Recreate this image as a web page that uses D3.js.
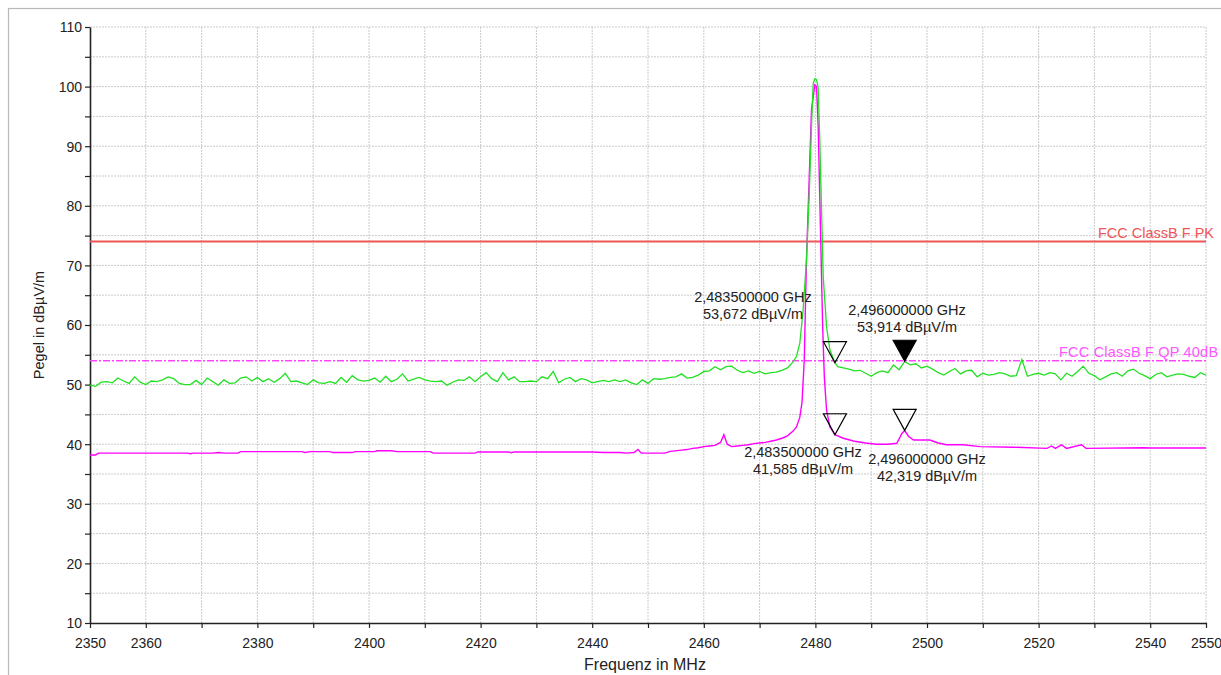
<!DOCTYPE html>
<html><head><meta charset="utf-8">
<script src="https://cdn.jsdelivr.net/npm/d3@7/dist/d3.min.js"></script>
<style>body{margin:0;background:#fff;} svg{display:block;font-family:"Liberation Sans",Arial,sans-serif;}</style>
</head><body><svg id="c" width="1221" height="675"></svg>
<script>
// ---- data ----
const xTicks = [2350,2360,2370,2380,2390,2400,2410,2420,2430,2440,2450,2460,2470,2480,2490,2500,2510,2520,2530,2540,2550];
const xTickLabels = ["2350","2360","","2380","","2400","","2420","","2440","","2460","","2480","","2500","","2520","","2540","2550"];
const yTicks = [10,15,20,25,30,35,40,45,50,55,60,65,70,75,80,85,90,95,100,105,110];
const yTickLabels = ["10","","20","","30","","40","","50","","60","","70","","80","","90","","100","","110"];

// Peak detector trace (green) [MHz, dBµV/m]
const peakTrace = [
[2350,49.9],[2351,49.7],[2352,50.4],[2353,50.5],[2354,50.3],[2355,51.1],[2356,50.6],[2357,50.2],[2358,51.3],[2359,50.4],
[2360,50.0],[2361,50.6],[2362,50.5],[2363,50.8],[2364,51.3],[2365,51.0],[2366,50.2],[2367,50.0],[2368,50.0],[2369,50.7],
[2370,50.0],[2371,51.1],[2372,50.5],[2373,49.9],[2374,50.8],[2375,50.2],[2376,50.3],[2377,51.1],[2378,51.3],[2379,50.6],
[2380,51.2],[2381,50.5],[2382,51.0],[2383,50.4],[2384,51.0],[2385,51.9],[2386,50.5],[2387,50.6],[2388,50.3],[2389,50.0],
[2390,50.8],[2391,50.3],[2392,50.2],[2393,50.5],[2394,50.2],[2395,51.2],[2396,50.4],[2397,51.5],[2398,50.8],[2399,50.6],
[2400,50.7],[2401,51.1],[2402,50.4],[2403,51.4],[2404,50.5],[2405,50.9],[2406,51.8],[2407,50.6],[2408,50.9],[2409,51.2],
[2410,50.8],[2411,50.6],[2412,50.5],[2413,50.6],[2414,49.9],[2415,50.4],[2416,50.8],[2417,50.7],[2418,51.3],[2419,50.5],
[2420,51.3],[2421,52.0],[2422,51.0],[2423,50.5],[2424,52.0],[2425,50.8],[2426,51.3],[2427,50.5],[2428,50.5],[2429,50.6],
[2430,50.5],[2431,51.3],[2432,51.0],[2433,52.2],[2434,50.3],[2435,50.9],[2436,51.2],[2437,50.5],[2438,51.0],[2439,50.8],
[2440,50.3],[2441,50.5],[2442,50.7],[2443,50.5],[2444,50.8],[2445,50.5],[2446,50.8],[2447,50.3],[2448,50.0],[2449,50.8],
[2450,50.2],[2451,51.0],[2452,50.9],[2453,51.0],[2454,51.2],[2455,51.3],[2456,51.8],[2457,51.1],[2458,51.2],[2459,51.6],
[2460,52.2],[2461,52.3],[2462,53.0],[2463,52.5],[2464,53.0],[2465,53.1],[2466,52.4],[2467,52.0],[2468,52.3],[2469,51.9],
[2470,52.2],[2471,51.8],[2472,52.0],[2473,52.1],[2474,52.4],[2475,52.8],[2476,53.8],[2476.6,54.7],[2477.2,56.9],[2477.8,62.5],
[2478.4,70.9],[2478.9,82.1],[2479.3,93.3],[2479.6,100.5],[2479.9,101.3],[2480.2,101.2],[2480.5,99.8],[2480.8,90.5],[2481.1,79.3],[2481.4,68.1],
[2482,59.7],[2482.6,55.8],[2483.5,53.7],[2484,53.0],[2485,52.8],[2486,52.6],[2487,52.3],[2488,52.4],[2489,51.9],
[2490,51.4],[2491,52.0],[2492,52.3],[2493,52.0],[2494,53.3],[2495,52.5],[2496,53.9],[2497,53.3],[2498,53.5],[2499,52.8],
[2500,53.1],[2501,52.6],[2502,52.0],[2503,51.6],[2504,52.2],[2505,52.7],[2506,51.8],[2507,52.3],[2508,52.4],[2509,51.3],
[2510,51.9],[2511,51.6],[2512,51.7],[2513,52.0],[2514,51.8],[2515,51.4],[2516,51.5],[2517,54.2],[2518,51.4],[2519,51.7],
[2520,51.9],[2521,51.6],[2522,52.0],[2523,51.8],[2524,50.8],[2525,51.9],[2526,51.4],[2527,52.2],[2528,53.1],[2529,51.9],
[2530,51.5],[2531,50.8],[2532,51.3],[2533,51.8],[2534,52.0],[2535,51.4],[2536,52.3],[2537,52.6],[2538,51.9],[2539,51.5],
[2540,51.0],[2541,51.7],[2542,52.0],[2543,51.3],[2544,51.6],[2545,51.8],[2546,51.7],[2547,51.4],[2548,51.2],[2549,52.0],
[2550,51.6]
];

// Average / QP trace (magenta) [MHz, dBµV/m]
const avgTrace = [
[2350,38.2],[2351,38.2],[2351.5,38.5],[2367.5,38.5],[2368,38.4],[2368.5,38.5],[2372,38.5],[2373,38.6],[2374,38.5],[2376.5,38.5],
[2377,38.75],[2388,38.75],[2388.5,38.6],[2389.5,38.75],[2393,38.75],[2393.5,38.6],[2397,38.6],[2397.5,38.75],[2401,38.75],[2401.5,38.9],
[2404,38.9],[2405,38.75],[2411,38.75],[2411.5,38.5],[2419,38.5],[2419.5,38.7],[2425,38.7],[2425.5,38.55],[2426,38.7],[2440,38.7],
[2442,38.6],[2445,38.6],[2446,38.5],[2447.5,38.6],[2448.2,39.1],[2448.8,38.5],[2453,38.5],[2454,38.8],[2456,39.0],[2457,39.1],
[2458,39.3],[2459,39.4],[2460,39.6],[2461,39.7],[2462,39.8],[2463,40.3],[2463.6,41.6],[2464.2,40.0],[2465,39.6],[2466,39.7],
[2467,39.8],[2468,39.9],[2469,40.1],[2470,40.2],[2471,40.3],[2472,40.5],[2473,40.7],[2474,41.0],[2475,41.4],[2476,42.2],
[2476.6,42.9],[2477.2,44.5],[2477.6,47.0],[2478,54.1],[2478.4,70.9],[2478.9,84.9],[2479.3,96.1],[2479.9,100.3],[2480.2,100.0],[2480.5,93.3],
[2480.9,76.5],[2481.3,59.7],[2481.6,51.3],[2482,45.7],[2482.6,42.9],[2483.5,41.6],[2485,41.0],[2487,40.5],[2489,40.2],[2491,40.0],
[2493,40.0],[2494.6,40.15],[2495.5,41.8],[2496,42.3],[2496.7,41.3],[2497.6,40.7],[2500.5,40.7],[2502,40.2],[2503.5,39.9],[2506.5,39.9],
[2509.5,39.6],[2515.5,39.5],[2521.5,39.3],[2522.3,39.7],[2523,39.3],[2524.1,39.9],[2525,39.3],[2527.7,39.9],[2528.5,39.3],[2538.8,39.4],
[2540,39.35],[2550,39.35]
];

const limitNames = ["FCC ClassB F PK","FCC ClassB F QP 40dB"];
const limitValues = [74, 54];

const markerFreqs = [2483.5, 2496, 2483.5, 2496];
const markerLevels = [53.672, 53.914, 41.585, 42.319];
const markerFreqText = ["2,483500000 GHz","2,496000000 GHz","2,483500000 GHz","2,496000000 GHz"];
const markerLevelText = ["53,672 dBµV/m","53,914 dBµV/m","41,585 dBµV/m","42,319 dBµV/m"];

// ---- layout ----
const L = 90, R = 1206, T = 27, B = 623;
const svg = d3.select("#c");
const x = d3.scaleLinear().domain([2350,2550]).range([L,R]);
const y = d3.scaleLinear().domain([10,110]).range([B,T]);

// outer frame
svg.append("rect").attr("x",8.5).attr("y",8.5).attr("width",1300).attr("height",700)
  .attr("fill","none").attr("stroke","#b8b8b8").attr("stroke-width",1.2);

// grid
const grid = svg.append("g").attr("stroke","#cacaca").attr("stroke-width",1).attr("stroke-dasharray","2,1");
grid.selectAll(".gx").data(xTicks.slice(1)).join("line")
  .attr("x1",d=>x(d)).attr("x2",d=>x(d)).attr("y1",T).attr("y2",B);
grid.selectAll(".gy").data(yTicks.slice(1)).join("line")
  .attr("x1",L).attr("x2",R).attr("y1",d=>y(d)).attr("y2",d=>y(d));

// axes
const fmtX = d => xTickLabels[xTicks.indexOf(d)];
const fmtY = d => yTickLabels[yTicks.indexOf(d)];
const gx = svg.append("g").attr("transform",`translate(0,${B})`)
  .call(d3.axisBottom(x).tickValues(xTicks).tickFormat(fmtX).tickSize(5).tickSizeOuter(0).tickPadding(10));
const gy = svg.append("g").attr("transform",`translate(${L},0)`)
  .call(d3.axisLeft(y).tickValues(yTicks).tickFormat(fmtY).tickSize(5).tickSizeOuter(0).tickPadding(3));
[gx,gy].forEach(g=>{
  g.select(".domain").attr("stroke","#222").attr("stroke-width",1.6);
  g.selectAll(".tick line").attr("stroke","#222").attr("stroke-width",1.2);
  g.selectAll(".tick text").attr("fill","#222").style("font-size","14px").style("font-family",'"Liberation Sans",Arial,sans-serif');
});
gy.selectAll(".tick text").attr("dy","0.35em");

// axis titles
svg.append("text").attr("x",645).attr("y",670).attr("text-anchor","middle")
  .attr("fill","#222").style("font-size","16px").text("Frequenz in MHz");
svg.append("text").attr("transform",`translate(44,${(T+B)/2}) rotate(-90)`).attr("text-anchor","middle")
  .attr("fill","#222").style("font-size","14.5px").text("Pegel in dBµV/m");

// limit lines
svg.append("line").attr("x1",L).attr("x2",R).attr("y1",y(limitValues[0])).attr("y2",y(limitValues[0]))
  .attr("stroke","#f05555").attr("stroke-width",2);
svg.append("line").attr("x1",L).attr("x2",R).attr("y1",y(limitValues[1])).attr("y2",y(limitValues[1]))
  .attr("stroke","#ff44ff").attr("stroke-width",1.3).attr("stroke-dasharray","7,2,2,2");
svg.append("text").attr("x",1098).attr("y",y(limitValues[0])-4).attr("fill","#f05555")
  .style("font-size","14.5px").text(limitNames[0]);
svg.append("text").attr("x",1059).attr("y",y(limitValues[1])-4).attr("fill","#ff55ff")
  .style("font-size","14.5px").style("letter-spacing","0.2px").text(limitNames[1]);

// traces
const line = d3.line().x(d=>x(d[0])).y(d=>y(d[1]));
svg.append("path").datum(avgTrace).attr("d",line).attr("fill","none").attr("stroke","#ff00ff").attr("stroke-width",1.4);
svg.append("path").datum(peakTrace).attr("d",line).attr("fill","none").attr("stroke","#22e022").attr("stroke-width",1.3);

// markers
const mk = svg.append("g");
markerFreqs.forEach((f,i)=>{
  const px = x(f), py = y(markerLevels[i]);
  mk.append("path").attr("d",`M${px},${py} L${px-11.5},${py-21} L${px+11.5},${py-21} Z`)
    .attr("fill", i===1 ? "#000" : "none").attr("stroke","#000").attr("stroke-width",1.2);
});
const labelPos = [[753,302],[907,315],[803,457],[927,464]];
labelPos.forEach((p,i)=>{
  const t = svg.append("text").attr("text-anchor","middle").attr("fill","#222").style("font-size","14.5px");
  t.append("tspan").attr("x",p[0]).attr("y",p[1]).text(markerFreqText[i]);
  t.append("tspan").attr("x",p[0]).attr("y",p[1]+17).text(markerLevelText[i]);
});
</script></body></html>
